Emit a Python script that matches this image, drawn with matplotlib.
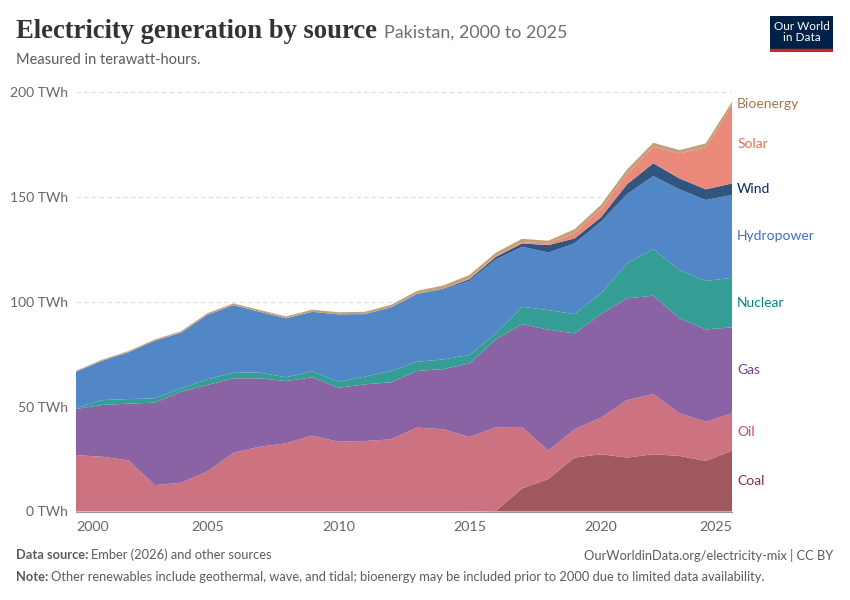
import matplotlib.pyplot as plt
import numpy as np

years = list(range(2000, 2026))

# TWh by source (bottom to top of the stack)
coal = [0, 0, 0, 0, 0, 0, 0, 0, 0, 0, 0, 0, 0, 0, 0, 0,
        0.3, 11.0, 15.5, 25.7, 27.3, 25.7, 27.3, 26.5, 24.1, 29.0]
oil = [26.9, 26.1, 24.4, 12.6, 13.7, 19.0, 28.0, 30.9, 32.5, 36.2, 33.3, 33.6, 34.4,
       40.0, 39.2, 35.5, 39.8, 29.3, 13.5, 13.5, 17.4, 27.4, 28.7, 20.3, 18.7, 17.8]
gas = [22.0, 24.7, 27.0, 39.3, 43.4, 41.3, 35.5, 32.6, 29.7, 27.8, 25.7, 27.0, 27.2,
       27.0, 28.7, 35.1, 42.0, 49.0, 57.7, 45.7, 49.4, 48.5, 46.9, 45.3, 44.0, 41.0]
nuclear = [0.5, 2.3, 2.2, 2.1, 1.6, 2.7, 2.7, 2.7, 1.8, 2.8, 2.9, 3.7, 5.4,
           4.4, 4.6, 4.0, 2.8, 8.3, 9.3, 9.2, 9.9, 16.7, 22.2, 23.0, 23.1, 23.6]
hydro = [17.2, 18.8, 22.3, 27.4, 26.5, 30.7, 32.2, 29.0, 28.1, 28.4, 32.1, 29.8, 30.3,
         32.3, 33.4, 35.4, 35.3, 28.6, 27.5, 33.7, 34.1, 33.0, 34.8, 38.5, 38.6, 39.5]
wind = [0, 0, 0, 0, 0, 0, 0, 0, 0, 0, 0, 0, 0,
        0.1, 0.3, 0.8, 1.2, 1.6, 3.5, 2.4, 2.1, 4.7, 6.1, 5.2, 5.1, 5.5]
solar = [0, 0, 0, 0, 0, 0, 0, 0, 0, 0, 0, 0, 0,
         0, 0.1, 0.3, 0.5, 0.7, 0.8, 2.7, 3.8, 4.9, 7.9, 11.9, 20.0, 37.3]
bio = [0.5, 0.5, 0.6, 0.6, 0.7, 0.8, 0.8, 0.9, 0.9, 1.0, 1.0, 1.1, 1.2,
       1.4, 1.5, 1.7, 1.5, 1.5, 1.3, 1.7, 2.1, 2.2, 1.9, 1.6, 1.9, 1.6]

sources = ["Coal", "Oil", "Gas", "Nuclear", "Hydropower", "Wind", "Solar", "Bioenergy"]
series = [coal, oil, gas, nuclear, hydro, wind, solar, bio]
fill_colors = ["#a0585f", "#cd7280", "#8a63a5", "#349e95", "#5287c7", "#30557f", "#eb8a7b", "#c4a078"]
label_colors = ["#883039", "#c04d61", "#6d3e91", "#00847e", "#3a70c4", "#00295b", "#e56e5a", "#a2764d"]

fig = plt.figure(figsize=(8.5, 6), dpi=100)
plt.rcParams["font.family"] = ["Lato", "DejaVu Sans"]

ax = fig.add_axes([76 / 850, 1 - 511.5 / 600, (732 - 76) / 850, (511.5 - 92) / 600])
ax.stackplot(years, *series, colors=fill_colors, linewidth=0)

ax.set_xlim(2000, 2025)
ax.set_ylim(0, 200)
ax.set_yticks([0, 50, 100, 150, 200])
ax.set_yticklabels(["0 TWh", "50 TWh", "100 TWh", "150 TWh", "200 TWh"])
ax.set_xticks([2000, 2005, 2010, 2015, 2020, 2025])
ax.set_xticks([2000, 2025], minor=True)
ax.tick_params(axis="y", length=0, labelsize=10, labelcolor="#666666", pad=6)
ax.tick_params(axis="x", which="major", length=0, labelsize=10.3, labelcolor="#666666", pad=7)
ax.tick_params(axis="x", which="minor", length=5, color="#999999")
ax.grid(axis="y", color="#dddddd", linestyle=(0, (4, 3)), linewidth=0.8)
ax.set_axisbelow(True)
for s in ["top", "right", "left"]:
    ax.spines[s].set_visible(False)
ax.spines["bottom"].set_color("#999999")
for lbl in ax.get_yticklabels():
    lbl.set_horizontalalignment("right")
xl = ax.get_xticklabels()
xl[0].set_horizontalalignment("left")
xl[-1].set_horizontalalignment("right")

# labels to the right of the last year, centered on each band
tops = np.cumsum([s[-1] for s in series])
for name, val, top, col in zip(sources, [s[-1] for s in series], tops, label_colors):
    ax.text(2025.2, top - val / 2, name, color=col, fontsize=10, va="center", ha="left",
            clip_on=False)

# title block
t = fig.text(16 / 850, 1 - 32 / 600, "Electricity generation by source",
             family=["Liberation Serif", "DejaVu Serif"], fontsize=19.2, fontweight="bold",
             color="#333333", va="center")
fig.canvas.draw()
r = fig.canvas.get_renderer()
bb = t.get_window_extent(r)
fig.text(bb.x1 / 850 + 7 / 850, 1 - 33 / 600, "Pakistan, 2000 to 2025", fontsize=12.9,
         color="#6e6e6e", va="center")
fig.text(16 / 850, 1 - 60 / 600, "Measured in terawatt-hours.", fontsize=10.5,
         color="#5b5b5b", va="center")

# logo
logo = fig.add_axes([770 / 850, 1 - 52 / 600, 63 / 850, 36 / 600])
logo.set_xlim(0, 1)
logo.set_ylim(0, 1)
logo.axis("off")
logo.add_patch(plt.Rectangle((0, 0.08), 1, 0.92, color="#002147"))
logo.add_patch(plt.Rectangle((0, 0), 1, 0.08, color="#ce261e"))
logo.text(0.5, 0.55, "Our World\nin Data", color="white", ha="center", va="center",
          fontsize=8.5, linespacing=1.0)

# footer
def two_part(x, y, bold, rest):
    b = fig.text(x / 850, 1 - y / 600, bold, fontsize=9.3, fontweight="bold",
                 color="#5b5b5b", va="center")
    fig.canvas.draw()
    w = b.get_window_extent(fig.canvas.get_renderer())
    fig.text(w.x1 / 850 + 3 / 850, 1 - y / 600, rest, fontsize=9.3, color="#5b5b5b", va="center")

two_part(16, 555, "Data source:", "Ember (2026) and other sources")
two_part(16, 577, "Note:", "Other renewables include geothermal, wave, and tidal; bioenergy may "
         "be included prior to 2000 due to limited data availability.")
fig.text(833 / 850, 1 - 555 / 600, "OurWorldinData.org/electricity-mix | CC BY", fontsize=9.3,
         color="#5b5b5b", va="center", ha="right")

fig.savefig("out.png", dpi=100)
